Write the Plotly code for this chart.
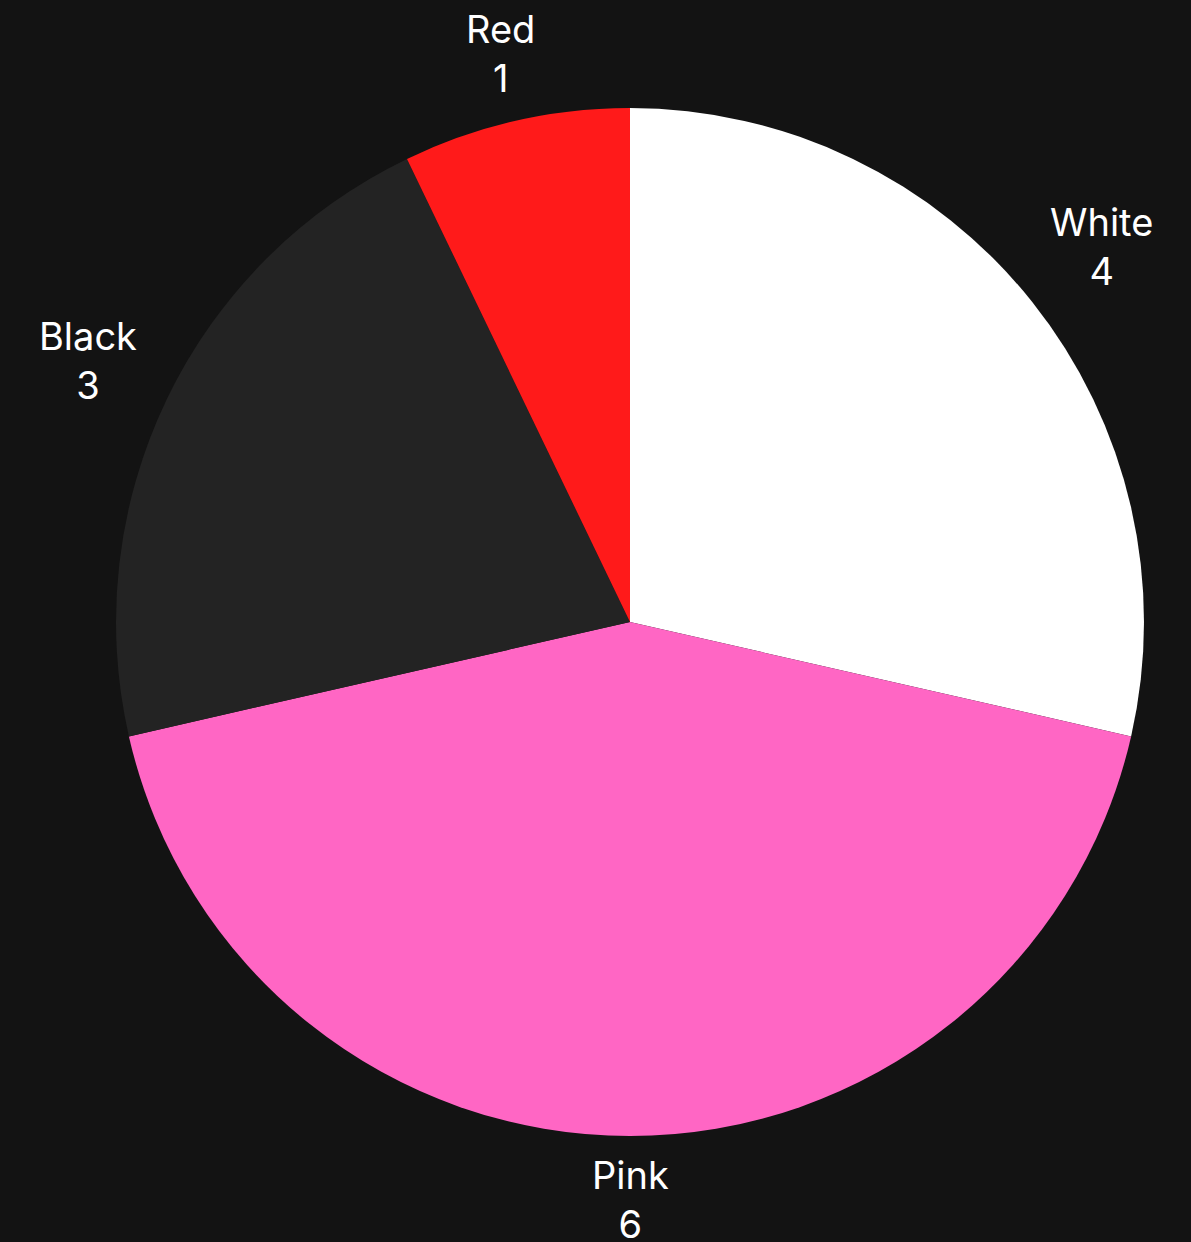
import math
import plotly.graph_objects as go

# Colour counts shown in the pie
labels = ["White", "Pink", "Black", "Red"]
values = [4, 6, 3, 1]
colors = ["#ffffff", "#ff66c4", "#232323", "#ff1a1a"]

W, H = 1191, 1242
M = dict(l=116, r=47, t=108, b=106)
FONT = "Inter"
FS = 38
LABEL_PAD = 25

fig = go.Figure(
    go.Pie(
        labels=labels,
        values=values,
        sort=False,
        direction="clockwise",
        rotation=0,
        marker=dict(colors=colors, line=dict(width=0)),
        textinfo="none",
        showlegend=False,
        automargin=False,
        hoverinfo="label+value",
    )
)

# Outside labels placed just beyond the rim, along each slice's mid-angle
plot_w = W - M["l"] - M["r"]
plot_h = H - M["t"] - M["b"]
radius = min(plot_w, plot_h) / 2
cx = M["l"] + plot_w / 2
cy = M["t"] + plot_h / 2
total = sum(values)
cum = 0
for lab, val in zip(labels, values):
    mid = (cum + val / 2) / total * 2 * math.pi
    cum += val
    ux, uy = math.sin(mid), -math.cos(mid)
    half_w = 0.27 * FS * len(lab)
    half_h = 1.0 * FS
    dist = radius + LABEL_PAD + abs(ux) * half_w + abs(uy) * half_h
    px, py = cx + ux * dist, cy + uy * dist
    fig.add_annotation(
        x=(px - M["l"]) / plot_w,
        y=(M["t"] + plot_h - py) / plot_h,
        xref="paper",
        yref="paper",
        xanchor="center",
        yanchor="middle",
        text=f"{lab}<br>{val}",
        showarrow=False,
        font=dict(family=FONT, size=FS, color="#ffffff"),
    )

fig.update_layout(
    width=W,
    height=H,
    paper_bgcolor="#131313",
    plot_bgcolor="#131313",
    margin=M,
)

fig.write_html("out.html")
